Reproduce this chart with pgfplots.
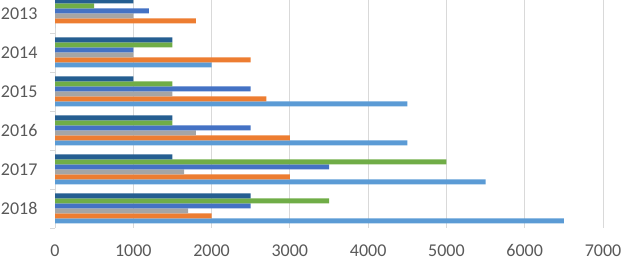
\documentclass[border=0pt]{standalone}
\usepackage{fontspec}
\setmainfont{Carlito}
\usepackage{pgfplots}
\pgfplotsset{compat=1.18}
\definecolor{cLightBlue}{HTML}{5B9BD5}
\definecolor{cOrange}{HTML}{ED7D31}
\definecolor{cGray}{HTML}{A5A5A5}
\definecolor{cBlue}{HTML}{4472C4}
\definecolor{cGreen}{HTML}{70AD47}
\definecolor{cDarkBlue}{HTML}{255E91}
\definecolor{gridgray}{HTML}{D9D9D9}
\definecolor{labelgray}{HTML}{595959}
\begin{document}
\begin{tikzpicture}
\begin{axis}[
  at={(55pt,32pt)}, anchor=south west,
  scale only axis, width=548pt, height=228pt,
  xbar=0pt, bar width=5pt,
  xmin=0, xmax=7000, ymin=-0.5, ymax=5.346,
  xtick={0,1000,...,7000},
  ytick={0,1,2,3,4,5},
  yticklabels={2018,2017,2016,2015,2014,2013},
  extra y ticks={-0.5,0.5,1.5,2.5,3.5,4.5},
  extra y tick labels={},
  extra y tick style={major tick length=5pt, tick align=outside, tick style={draw=gridgray, line width=0.8pt}, grid=none},
  major tick length=0pt,
  xmajorgrids, grid style={draw=gridgray, line width=0.8pt},
  axis x line*=bottom, axis y line*=left,
  x axis line style={draw=none},
  y axis line style={draw=gridgray, line width=0.8pt},
  tick label style={font=\fontsize{18}{20}\selectfont, text=labelgray},
  xticklabel style={inner sep=0pt, anchor=north, yshift=-16.5pt},
  yticklabel style={xshift=-14pt},
  /pgf/number format/assume math mode=true,
  /pgf/number format/1000 sep={},
  scaled x ticks=false,
  every axis plot/.append style={draw=none},
]
% y: 2018=0, 2017=1, 2016=2, 2015=3, 2014=4, 2013=5
\addplot[fill=cLightBlue] coordinates {(6500,0) (5500,1) (4500,2) (4500,3) (2000,4) (0,5)};
\addplot[fill=cOrange] coordinates {(2000,0) (3000,1) (3000,2) (2700,3) (2500,4) (1800,5)};
\addplot[fill=cGray] coordinates {(1700,0) (1650,1) (1800,2) (1500,3) (1000,4) (1000,5)};
\addplot[fill=cBlue] coordinates {(2500,0) (3500,1) (2500,2) (2500,3) (1000,4) (1200,5)};
\addplot[fill=cGreen] coordinates {(3500,0) (5000,1) (1500,2) (1500,3) (1500,4) (500,5)};
\addplot[fill=cDarkBlue] coordinates {(2500,0) (1500,1) (1500,2) (1000,3) (1500,4) (1000,5)};
\end{axis}
\pgfresetboundingbox
\useasboundingbox (0,0) rectangle (622pt,260pt);
\end{tikzpicture}
\end{document}
